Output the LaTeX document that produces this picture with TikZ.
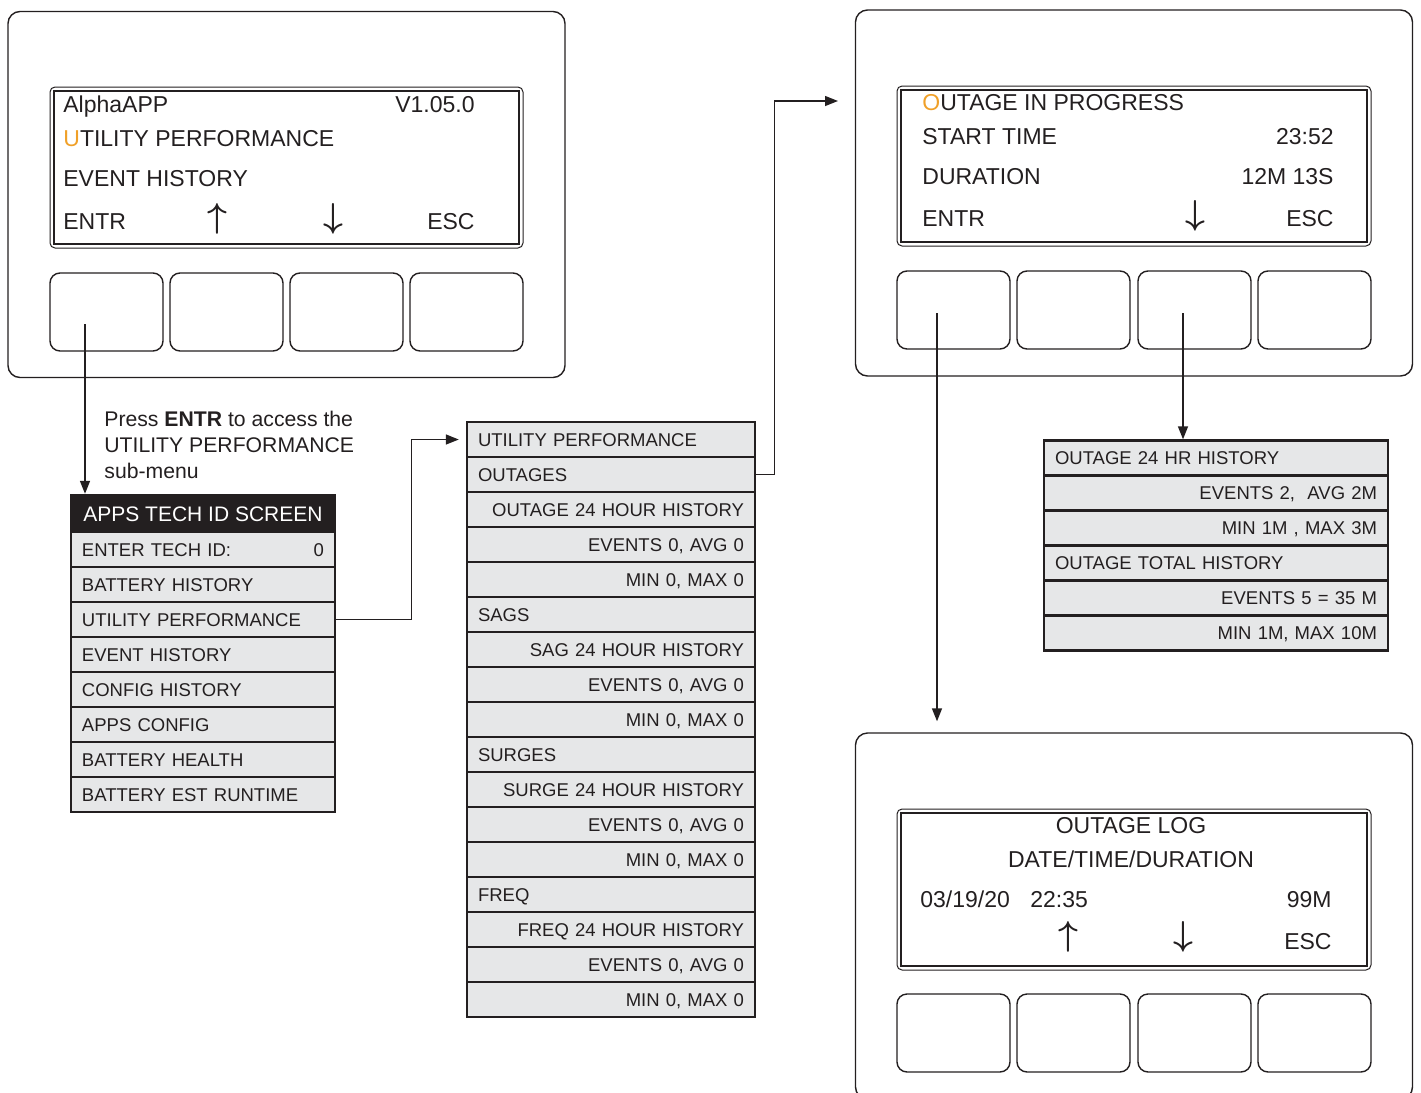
\documentclass[tikz,border=0pt]{standalone}
\usepackage{amsmath}
\usepackage{fontspec}
\setmainfont{Liberation Sans}
\usepackage{tikz}
\usetikzlibrary{arrows.meta}
\definecolor{inkgray}{RGB}{35,31,32}
\definecolor{rowgray}{RGB}{230,231,232}
\definecolor{cursor}{RGB}{240,160,40}

\tikzset{
  panel/.style={draw=inkgray,line width=0.7pt,rounded corners=6pt,minimum width=278.5pt,minimum height=183pt},
  keybox/.style={draw=inkgray,line width=0.7pt,rounded corners=5pt,minimum width=56.5pt,minimum height=39pt},
  lcdout/.style={draw=inkgray,line width=0.5pt,rounded corners=2.5pt},
  lcdin/.style={draw=inkgray,line width=1pt},
  lcdtext/.style={inner sep=0pt,text height=8.2pt,text depth=0pt,font=\fontsize{11.5}{13}\selectfont,text=inkgray},
  lcdarrow/.style={inner sep=0pt,font=\fontsize{16}{16}\selectfont,text=inkgray},
  menurow/.style={draw=inkgray,fill=rowgray,line width=1.2pt,minimum height=17.5pt,inner xsep=5.5pt,inner ysep=0pt,
    text height=6.6pt,text depth=0pt,font=\fontsize{9.25}{11}\selectfont,text=inkgray},
  lmhead/.style={draw=inkgray,fill=inkgray,line width=1.2pt,minimum width=132pt,minimum height=18.5pt,inner sep=0pt,
    text height=7.5pt,text depth=0pt,font=\fontsize{10.5}{12}\selectfont,text=white},
  lmrow/.style={menurow,minimum width=132pt,text width=121pt},
  umrow/.style={menurow,minimum width=144pt,text width=133pt},
  rmrow/.style={menurow,minimum width=172pt,text width=161pt},
  link/.style={draw=inkgray,line width=0.7pt,-{Triangle[length=6.5pt,width=5pt]}}
}

\begin{document}
\begin{tikzpicture}[x=0.5pt,y=-0.5pt]
\useasboundingbox (0,0) rectangle (1421,1093);
\clip (0,0) rectangle (1421,1093);

\node[panel] (p1) at (286.5,194.5) {};
\draw[lcdout] (50,87) rectangle (523,248);
\draw[lcdin] (54,91) rectangle (519,244);
\node[keybox] (p1k1) at (106.5,312) {};
\node[keybox] (p1k2) at (226.5,312) {};
\node[keybox] (p1k3) at (346.5,312) {};
\node[keybox] (p1k4) at (466.5,312) {};
\node[lcdtext,anchor=west] (p1t1) at (63,104) {AlphaAPP};
\node[lcdtext,anchor=east] (p1t2) at (475,104) {V1.05.0};
\node[lcdtext,anchor=west] (p1t3) at (63,138) {\textcolor{cursor}{U}TILITY PERFORMANCE};
\node[lcdtext,anchor=west] (p1t4) at (63,178) {EVENT HISTORY};
\node[lcdtext,anchor=west] (p1t5) at (63,221) {ENTR};
\node[lcdarrow] (p1up) at (217,219) {$\boldsymbol{\uparrow}$};
\node[lcdarrow] (p1dn) at (333,219) {$\boldsymbol{\downarrow}$};
\node[lcdtext,anchor=east] (p1t6) at (475,221) {ESC};

\node[panel] (p2) at (1134,193) {};
\draw[lcdout] (897,86) rectangle (1371,246);
\draw[lcdin] (901,90) rectangle (1367,242);
\node[keybox] (p2k1) at (953.5,310) {};
\node[keybox] (p2k2) at (1073.5,310) {};
\node[keybox] (p2k3) at (1194.5,310) {};
\node[keybox] (p2k4) at (1314.5,310) {};
\node[lcdtext,anchor=west] (p2t1) at (922,102) {\textcolor{cursor}{O}UTAGE IN PROGRESS};
\node[lcdtext,anchor=west] (p2t2) at (922,136) {START TIME};
\node[lcdtext,anchor=east] (p2t3) at (1334,136) {23:52};
\node[lcdtext,anchor=west] (p2t4) at (922,176) {DURATION};
\node[lcdtext,anchor=east] (p2t5) at (1334,176) {12M 13S};
\node[lcdtext,anchor=west] (p2t6) at (922,218) {ENTR};
\node[lcdarrow] (p2dn) at (1195,216) {$\boldsymbol{\downarrow}$};
\node[lcdtext,anchor=east] (p2t7) at (1334,218) {ESC};

\node[panel] (p3) at (1134,916) {};
\draw[lcdout] (897,809) rectangle (1371,970);
\draw[lcdin] (901,813) rectangle (1367,966);
\node[keybox] (p3k1) at (953.5,1033) {};
\node[keybox] (p3k2) at (1073.5,1033) {};
\node[keybox] (p3k3) at (1194.5,1033) {};
\node[keybox] (p3k4) at (1314.5,1033) {};
\node[lcdtext] (p3t1) at (1131,825) {OUTAGE LOG};
\node[lcdtext] (p3t2) at (1131,859) {DATE/TIME/DURATION};
\node[lcdtext,anchor=west] (p3t3) at (920,899) {03/19/20};
\node[lcdtext,anchor=west] (p3t4) at (1030,899) {22:35};
\node[lcdtext,anchor=east] (p3t5) at (1332,899) {99M};
\node[lcdarrow] (p3up) at (1068,937) {$\boldsymbol{\uparrow}$};
\node[lcdarrow] (p3dn) at (1183,937) {$\boldsymbol{\downarrow}$};
\node[lcdtext,anchor=east] (p3t6) at (1332,941) {ESC};

\node[inner sep=0pt,anchor=north west,align=left,font=\fontsize{10.6}{13}\selectfont,text=inkgray] (note) at (104,411)
  {Press \textbf{ENTR} to access the\\UTILITY PERFORMANCE\\sub-menu};

\node[lmhead] (tech0) at (203,513.5) {APPS TECH ID SCREEN};
\node[lmrow,align=left] (lm1) at (203,549.5) {ENTER TECH ID:\hfill 0\hspace{3pt}};
\node[lmrow,align=left] (lm2) at (203,584.5) {BATTERY HISTORY};
\node[lmrow,align=left] (lm3) at (203,619.5) {UTILITY PERFORMANCE};
\node[lmrow,align=left] (lm4) at (203,654.5) {EVENT HISTORY};
\node[lmrow,align=left] (lm5) at (203,689.5) {CONFIG HISTORY};
\node[lmrow,align=left] (lm6) at (203,724.5) {APPS CONFIG};
\node[lmrow,align=left] (lm7) at (203,759.5) {BATTERY HEALTH};
\node[lmrow,align=left] (lm8) at (203,794.5) {BATTERY EST RUNTIME};

\node[umrow,align=left] (um1) at (611,439.5) {UTILITY PERFORMANCE};
\node[umrow,align=left] (um2) at (611,474.5) {OUTAGES};
\node[umrow,align=right] (um3) at (611,509.5) {OUTAGE 24 HOUR HISTORY};
\node[umrow,align=right] (um4) at (611,544.5) {EVENTS 0, AVG 0};
\node[umrow,align=right] (um5) at (611,579.5) {MIN 0, MAX 0};
\node[umrow,align=left] (um6) at (611,614.5) {SAGS};
\node[umrow,align=right] (um7) at (611,649.5) {SAG 24 HOUR HISTORY};
\node[umrow,align=right] (um8) at (611,684.5) {EVENTS 0, AVG 0};
\node[umrow,align=right] (um9) at (611,719.5) {MIN 0, MAX 0};
\node[umrow,align=left] (um10) at (611,754.5) {SURGES};
\node[umrow,align=right] (um11) at (611,789.5) {SURGE 24 HOUR HISTORY};
\node[umrow,align=right] (um12) at (611,824.5) {EVENTS 0, AVG 0};
\node[umrow,align=right] (um13) at (611,859.5) {MIN 0, MAX 0};
\node[umrow,align=left] (um14) at (611,894.5) {FREQ};
\node[umrow,align=right] (um15) at (611,929.5) {FREQ 24 HOUR HISTORY};
\node[umrow,align=right] (um16) at (611,964.5) {EVENTS 0, AVG 0};
\node[umrow,align=right] (um17) at (611,999.5) {MIN 0, MAX 0};

\node[rmrow,align=left] (rm1) at (1216,458) {OUTAGE 24 HR HISTORY};
\node[rmrow,align=right] (rm2) at (1216,493) {EVENTS 2,\ \ AVG 2M};
\node[rmrow,align=right] (rm3) at (1216,528) {MIN 1M , MAX 3M};
\node[rmrow,align=left] (rm4) at (1216,563) {OUTAGE TOTAL HISTORY};
\node[rmrow,align=right] (rm5) at (1216,598) {EVENTS 5 = 35 M};
\node[rmrow,align=right] (rm6) at (1216,633) {MIN 1M, MAX 10M};

\coordinate (p1entr) at (85,324);
\coordinate (p2entry) at (838,101);
\coordinate (p2entr) at (937,313);
\coordinate (p2down) at (1183,313);
\draw[link] (p1entr) -- (p1entr |- tech0.north);
\draw[link] (lm3.east) -- ++(75,0) |- ([xshift=-3.5pt]um1.west);
\draw[link] (um2.east) -- ++(18,0) |- (p2entry);
\draw[link] (p2down) -- (p2down |- rm1.north);
\draw[link] (p2entr) -- ([yshift=5.5pt]p2entr |- p3.north);
\end{tikzpicture}
\end{document}
